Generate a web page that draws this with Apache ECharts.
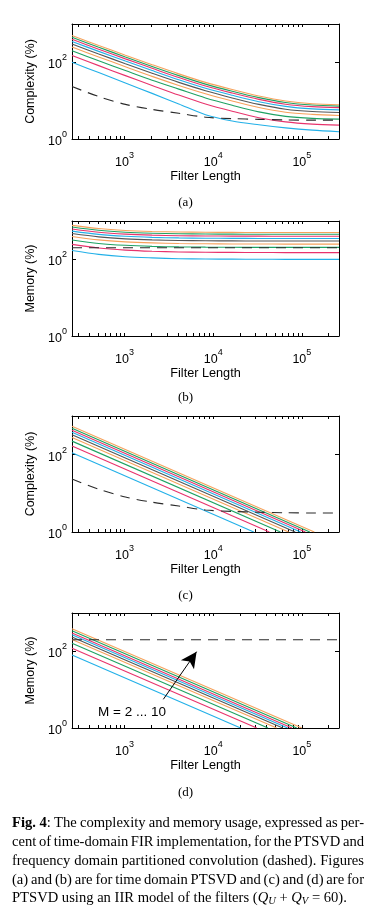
<!DOCTYPE html>
<html><head><meta charset="utf-8">
<script src="https://cdn.jsdelivr.net/npm/echarts@6/dist/echarts.min.js"></script>
<style>html,body{margin:0;padding:0;background:#fff}#c{width:370px;height:909px}</style>
</head><body><div id="c"></div>
<script>
// ---------- data ----------
const filterLength = [256, 512, 1024, 2048, 4096, 8192, 16384, 32768, 65536, 131072, 262144];
const mLabels = ['M = 2', 'M = 3', 'M = 4', 'M = 5', 'M = 6', 'M = 7', 'M = 8', 'M = 9', 'M = 10'];
const lineColors = ['#22b0e8', '#e8336c', '#1ea262', '#f6a25c', '#555557', '#22b0e8', '#e8336c', '#1ea262', '#f6a25c'];

// (a) complexity, time-domain PTSVD (%), one row per M, values at filterLength
const complexityTD_M2  = [100, 54, 29, 15.5, 8.2, 4.3, 2.95, 2.35, 1.95, 1.7, 1.55];
const complexityTD_M3  = [150, 82, 45, 25, 14, 8.2, 5.3, 3.6, 2.8, 2.45, 2.3];
const complexityTD_M4  = [200, 110, 61, 34, 20, 11.8, 7.6, 5.1, 3.9, 3.45, 3.3];
const complexityTD_M5  = [250, 138, 77, 43, 25, 15.2, 9.8, 6.6, 5.0, 4.4, 4.1];
const complexityTD_M6  = [300, 165, 92, 52, 30, 18.2, 11.8, 8.0, 6.0, 5.2, 4.9];
const complexityTD_M7  = [350, 193, 108, 61, 35, 21, 13.8, 9.4, 7.1, 6.1, 5.75];
const complexityTD_M8  = [400, 220, 123, 70, 40, 24, 15.8, 10.8, 8.1, 7.0, 6.6];
const complexityTD_M9  = [450, 248, 138, 78, 45, 27, 17.6, 12.0, 9.0, 7.7, 7.2];
const complexityTD_M10 = [500, 275, 154, 87, 50, 30, 19.5, 13.2, 9.8, 8.3, 7.8];

// (b) memory, time-domain PTSVD (%)
const memoryTD_M2  = [170, 135, 117, 109, 104, 102, 101, 100.5, 100, 100, 100];
const memoryTD_M3  = [245, 197, 174, 162, 156, 153, 151.5, 151, 150, 150, 150];
const memoryTD_M4  = [320, 260, 232, 218, 211, 208, 206, 205, 205, 205, 205];
const memoryTD_M5  = [395, 322, 286, 268, 259, 254, 252, 251, 250, 250, 250];
const memoryTD_M6  = [470, 385, 342, 321, 311, 305, 303, 301, 300, 300, 300];
const memoryTD_M7  = [545, 447, 399, 374, 362, 356, 353, 351, 350, 350, 350];
const memoryTD_M8  = [620, 510, 455, 427, 414, 407, 403, 402, 401, 400, 400];
const memoryTD_M9  = [695, 572, 511, 481, 465, 458, 454, 452, 451, 450, 450];
const memoryTD_M10 = [770, 635, 567, 534, 517, 508, 504, 502, 501, 500, 500];

// partitioned convolution (dashed)
const complexityPC = [23.4, 12.8, 8.0, 5.9, 4.7, 3.7, 3.4, 3.25, 3.15, 3.1, 3.1];
const memoryPCLength = [256, 262144];
const memoryPC = [200, 200];

// (c) complexity, IIR PTSVD: value at 256 and filter length where it reaches 1 %
const complexityIIRStart = [112, 168, 224, 277, 328, 378, 428, 480, 540];
const complexityIIREndLength = [28700, 43000, 57300, 70900, 84000, 96800, 109600, 122900, 138200];
// (d) memory, IIR PTSVD
const memoryIIRStart = [80, 121, 162, 203, 238, 270, 302, 342, 390];
const memoryIIREndLength = [20400, 31000, 41500, 52000, 60900, 69100, 77300, 87500, 99800];

const xTickValues = [300, 400, 500, 600, 700, 800, 900, 1000, 2000, 3000, 4000, 5000, 6000, 7000, 8000, 9000,
  10000, 20000, 30000, 40000, 50000, 60000, 70000, 80000, 90000, 100000, 200000];
const xLabelValues = [1000, 10000, 100000];
const yLabelValues = [1, 100];

// ---------- chart ----------
const SANS = '"Liberation Sans", Arial, Helvetica, sans-serif';
const SERIF = '"Liberation Serif", "Times New Roman", serif';
const panels = [
  { top: 24, height: 115, yName: 'Complexity (%)', tag: '(a)', tagY: 202.5 },
  { top: 221, height: 115, yName: 'Memory (%)', tag: '(b)', tagY: 397.5 },
  { top: 416, height: 116, yName: 'Complexity (%)', tag: '(c)', tagY: 595.5 },
  { top: 613, height: 115, yName: 'Memory (%)', tag: '(d)', tagY: 792.5 }
];
const supRich = {
  b: { fontSize: 12.5, fontFamily: SANS, color: '#000', lineHeight: 18, verticalAlign: 'bottom' },
  s: { fontSize: 9, fontFamily: SANS, color: '#000', lineHeight: 8, verticalAlign: 'top' }
};
function powLabel(v) { return '{b|10}{s|' + Math.round(Math.log10(v)) + '}'; }

const grid = [], xAxis = [], yAxis = [], series = [];
panels.forEach((p, i) => {
  grid.push({ left: 72, width: 267, top: p.top, height: p.height, outerBoundsMode: 'none', containLabel: false });
  const xBase = { gridIndex: i, type: 'log', logBase: 10, min: 256, max: 262144, splitLine: { show: false },
    axisLine: { show: true, lineStyle: { color: '#000', width: 1 } } };
  xAxis.push(Object.assign({}, xBase, {
    position: 'bottom',
    axisTick: { show: true, inside: true, length: 3, customValues: xTickValues, lineStyle: { color: '#000', width: 1 } },
    axisLabel: { show: true, customValues: xLabelValues, formatter: powLabel, rich: supRich, margin: 12 },
    name: 'Filter Length', nameLocation: 'middle', nameGap: 31,
    nameTextStyle: { fontSize: 12.7, fontFamily: SANS, color: '#000' }
  }));
  xAxis.push(Object.assign({}, xBase, {
    position: 'top',
    axisTick: { show: true, inside: true, length: 3, customValues: xTickValues, lineStyle: { color: '#000', width: 1 } },
    axisLabel: { show: false }
  }));
  const yBase = { gridIndex: i, type: 'log', logBase: 10, min: 1, max: 1000, splitLine: { show: false },
    axisLine: { show: true, lineStyle: { color: '#000', width: 1 } },
    axisTick: { show: true, inside: true, length: 4, customValues: yLabelValues, lineStyle: { color: '#000', width: 1 } } };
  yAxis.push(Object.assign({}, yBase, {
    position: 'left',
    axisLabel: { show: true, customValues: yLabelValues, formatter: powLabel, rich: supRich, margin: 5 },
    name: p.yName, nameLocation: 'middle', nameGap: 35, nameRotate: 90,
    nameTextStyle: { fontSize: 12.5, fontFamily: SANS, color: '#000' }
  }));
  yAxis.push(Object.assign({}, yBase, { position: 'right', axisLabel: { show: false } }));
});

function addLine(panel, name, data, color, extra) {
  series.push(Object.assign({
    type: 'line', name: name, xAxisIndex: panel * 2, yAxisIndex: panel * 2, data: data,
    symbol: 'none', clip: true, silent: true, animation: false,
    lineStyle: { color: color, width: 1.1 }, itemStyle: { color: color }
  }, extra || {}));
}
const pairs = (xs, ys) => xs.map((x, k) => [x, ys[k]]);

const complexityTD = [complexityTD_M2, complexityTD_M3, complexityTD_M4, complexityTD_M5, complexityTD_M6,
  complexityTD_M7, complexityTD_M8, complexityTD_M9, complexityTD_M10];
const memoryTD = [memoryTD_M2, memoryTD_M3, memoryTD_M4, memoryTD_M5, memoryTD_M6,
  memoryTD_M7, memoryTD_M8, memoryTD_M9, memoryTD_M10];

mLabels.forEach((m, j) => {
  addLine(0, m, pairs(filterLength, complexityTD[j]), lineColors[j], { smooth: 0.3 });
  addLine(1, m, pairs(filterLength, memoryTD[j]), lineColors[j], { smooth: 0.3 });
  addLine(2, m, [[filterLength[0], complexityIIRStart[j]], [complexityIIREndLength[j], 1]], lineColors[j]);
  addLine(3, m, [[filterLength[0], memoryIIRStart[j]], [memoryIIREndLength[j], 1]], lineColors[j]);
});
const dashStyle = { color: '#2a2a2a', width: 1.1, type: [10, 7] };
addLine(0, 'partitioned', pairs(filterLength, complexityPC), '#2a2a2a', { smooth: 0.3, lineStyle: dashStyle, z: 5 });
addLine(1, 'partitioned', pairs(memoryPCLength, memoryPC), '#2a2a2a', { lineStyle: dashStyle, z: 5 });
addLine(2, 'partitioned', pairs(filterLength, complexityPC), '#2a2a2a', { smooth: 0.3, lineStyle: dashStyle, z: 5 });
addLine(3, 'partitioned', pairs(memoryPCLength, memoryPC), '#2a2a2a', {
  lineStyle: dashStyle, z: 5,
  markLine: {
    silent: true, animation: false, symbol: ['none', 'arrow'], symbolSize: [12, 16],
    lineStyle: { color: '#000', width: 1, type: 'solid' }, label: { show: false },
    data: [[{ coord: [2740, 5.6] }, { coord: [6500, 98] }]]
  }
});

// ---------- texts ----------
const graphic = [];
panels.forEach(p => graphic.push({ type: 'text', x: 185.5, y: p.tagY, silent: true,
  style: { text: p.tag, font: '13px ' + SERIF, fill: '#000', align: 'center', verticalAlign: 'middle' } }));
graphic.push({ type: 'text', x: 98, y: 712, silent: true,
  style: { text: 'M = 2 ... 10', font: '13.5px ' + SANS, fill: '#000', align: 'left', verticalAlign: 'middle' } });

// caption (justified lines)
const CAP = 14.6;
const capFont = CAP + 'px ' + SERIF, capBold = 'bold ' + CAP + 'px ' + SERIF;
const ctx = document.createElement('canvas').getContext('2d');
function measure(t, f) { ctx.font = f; return ctx.measureText(t).width; }
const captionLines = [
  'The complexity and memory usage, expressed as per-',
  'cent of time-domain FIR implementation, for the PTSVD and',
  'frequency domain partitioned convolution (dashed). Figures',
  '(a) and (b) are for time domain PTSVD and (c) and (d) are for'
];
const capY = [823, 842, 861, 880, 898.5];
const capLeft = 12, capRight = 364;
captionLines.forEach((line, li) => {
  const words = line.split(' ').map(w => ({ text: w, w: measure(w, capFont) }));
  if (li === 0) {
    words.unshift({ text: '{bb|Fig. 4}:', w: measure('Fig. 4', capBold) + measure(':', capFont) });
  }
  const total = words.reduce((s, w) => s + w.w, 0);
  const gap = (capRight - capLeft - total) / (words.length - 1);
  let x = capLeft;
  words.forEach(w => {
    graphic.push({ type: 'text', x: x, y: capY[li], silent: true,
      style: { text: w.text, font: capFont, fill: '#000', verticalAlign: 'middle',
        rich: { bb: { font: capBold, fill: '#000' } } } });
    x += w.w + gap;
  });
});
graphic.push({ type: 'text', x: capLeft, y: capY[4], silent: true,
  style: { text: 'PTSVD using an IIR model of the filters ({i|Q}{u|U} + {i|Q}{u|V} = 60).', font: capFont, fill: '#000',
    verticalAlign: 'middle', lineHeight: 16,
    rich: { i: { fontFamily: SERIF, fontSize: CAP, fontStyle: 'italic', lineHeight: 16, fill: '#000' },
            u: { fontFamily: SERIF, fontSize: 10.5, fontStyle: 'italic', lineHeight: 9, verticalAlign: 'bottom', fill: '#000' } } } });

const chart = echarts.init(document.getElementById('c'), null, { renderer: 'canvas' });
chart.setOption({ animation: false, backgroundColor: '#fff', grid, xAxis, yAxis, series, graphic });
</script></body></html>
